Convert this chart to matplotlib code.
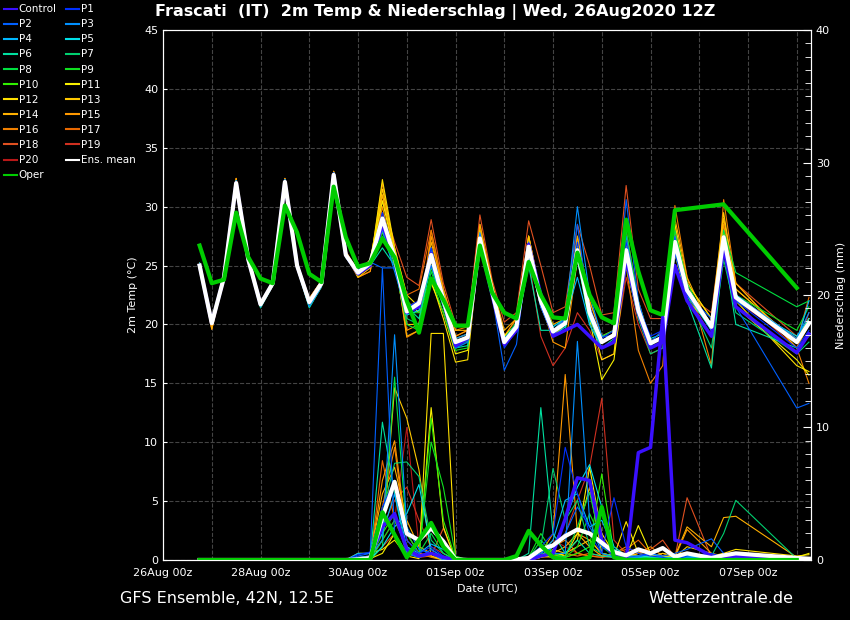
import matplotlib
matplotlib.use('Agg')
import matplotlib.pyplot as plt
from matplotlib.ticker import MultipleLocator

# Zeitachse: Stunden ab 26Aug2020 00Z
hours = [18, 24, 30, 36, 42, 48, 54, 60, 66, 72, 78, 84, 90, 96, 102, 108, 114, 120,
         126, 132, 138, 144, 150, 156, 162, 168, 174, 180, 186, 192, 198, 204, 210,
         216, 222, 228, 234, 240, 246, 252, 258, 270, 276, 282, 312, 318]
oper_hours = [18, 24, 30, 36, 42, 48, 54, 60, 66, 72, 78, 84, 90, 96, 102, 108, 114, 120,
              126, 132, 138, 144, 150, 156, 162, 168, 174, 180, 186, 192, 198, 204, 210,
              216, 222, 228, 234, 240, 246, 252, 276, 312]

xtick_hours = [0, 48, 96, 144, 192, 240, 288]
xtick_labels = ['26Aug 00z', '28Aug 00z', '30Aug 00z', '01Sep 00z',
                '03Sep 00z', '05Sep 00z', '07Sep 00z']

# 2m Temperatur (°C)
t_control = [25.0, 20.1, 24.0, 32.0, 25.5, 21.7, 23.5, 32.1, 25.0, 21.9, 23.5, 32.7, 25.9,
             24.3, 25.0, 28.5, 25.5, 21.0, 21.5, 26.0, 22.0, 18.2, 18.8, 27.0, 22.5, 18.3,
             19.5, 26.8, 22.5, 19.0, 19.5, 20.0, 19.0, 18.0, 18.5, 25.5, 21.0, 18.0, 18.5,
             25.0, 22.0, 19.0, 26.5, 21.5, 17.6, 19.2]
t_p1 = [25.1, 20.0, 24.1, 32.2, 25.6, 21.8, 23.6, 32.3, 25.1, 22.0, 23.6, 32.9, 26.0,
        24.5, 25.3, 29.5, 26.0, 21.5, 22.0, 26.5, 22.5, 18.5, 19.0, 27.5, 22.8, 18.0,
        19.5, 26.0, 21.5, 19.0, 20.5, 27.0, 21.5, 18.8, 19.5, 27.0, 21.5, 19.0, 19.5,
        26.0, 22.5, 20.0, 27.0, 22.0, 18.0, 19.5]
t_p2 = [24.9, 20.2, 23.9, 31.8, 25.4, 21.6, 23.4, 32.0, 24.9, 21.8, 23.4, 32.5, 25.8,
        24.4, 25.3, 24.8, 24.8, 21.5, 21.8, 25.0, 22.0, 18.0, 18.5, 27.0, 22.5, 16.1,
        18.3, 26.5, 21.5, 19.5, 20.0, 28.5, 21.0, 18.5, 19.0, 30.6, 22.0, 18.5, 19.5,
        27.5, 22.5, 20.5, 27.0, 21.5, 12.9, 13.3]
t_p3 = [25.2, 20.1, 24.2, 32.1, 25.3, 21.5, 23.3, 32.2, 24.8, 21.5, 23.2, 32.6, 25.7,
        24.5, 25.2, 28.0, 24.5, 21.0, 21.5, 26.5, 22.0, 18.8, 19.2, 27.8, 23.0, 18.8,
        20.0, 27.0, 22.0, 19.5, 20.5, 30.0, 22.5, 19.0, 19.0, 27.5, 21.5, 18.2, 19.0,
        27.0, 23.0, 19.5, 27.5, 22.5, 18.8, 21.0]
t_p4 = [25.0, 20.1, 24.0, 32.0, 25.5, 21.7, 23.5, 32.1, 25.0, 21.9, 23.5, 32.7, 25.9,
        24.6, 25.4, 29.0, 25.8, 21.0, 21.5, 26.0, 22.2, 18.2, 18.8, 27.2, 22.8, 18.3,
        19.8, 26.5, 21.8, 19.8, 20.5, 24.0, 20.0, 18.0, 18.5, 26.0, 21.0, 18.5, 19.0,
        27.2, 23.0, 20.0, 27.0, 22.5, 18.5, 22.0]
t_p5 = [25.1, 20.0, 24.1, 32.2, 25.6, 21.8, 23.6, 32.3, 25.1, 22.0, 23.6, 32.9, 26.0,
        24.3, 25.0, 28.8, 25.5, 20.8, 21.2, 25.5, 22.0, 18.5, 19.0, 27.5, 23.0, 18.5,
        20.0, 26.0, 21.5, 19.0, 19.8, 25.5, 20.5, 18.5, 19.0, 26.5, 21.5, 18.8, 19.2,
        26.5, 22.5, 19.5, 27.0, 22.0, 19.0, 20.5]
t_p6 = [25.2, 20.1, 24.2, 32.1, 25.3, 21.4, 23.3, 32.2, 24.8, 21.4, 23.2, 32.6, 25.7,
        24.2, 25.0, 26.5, 25.0, 21.5, 20.5, 25.0, 21.5, 18.0, 18.2, 26.5, 22.5, 18.5,
        19.5, 25.0, 19.5, 19.5, 20.0, 26.0, 20.5, 18.0, 18.8, 25.5, 21.0, 18.0, 18.5,
        26.5, 22.0, 16.3, 26.5, 20.0, 18.0, 19.0]
t_p7 = [24.9, 20.2, 23.9, 31.8, 25.4, 21.6, 23.4, 32.0, 24.9, 21.8, 23.4, 32.5, 25.8,
        24.4, 25.2, 28.5, 25.5, 20.5, 20.0, 25.5, 22.0, 18.0, 18.5, 27.0, 22.5, 18.5,
        20.0, 26.5, 22.0, 19.0, 19.5, 26.5, 21.0, 18.5, 19.0, 25.0, 20.5, 17.5, 18.0,
        26.0, 22.5, 18.0, 25.5, 21.0, 17.5, 18.5]
t_p8 = [25.0, 20.1, 24.0, 32.0, 25.5, 21.7, 23.5, 32.1, 25.0, 21.9, 23.5, 32.7, 25.9,
        24.5, 25.3, 27.5, 25.0, 20.0, 19.5, 24.5, 21.5, 18.2, 18.6, 27.5, 22.5, 18.8,
        20.2, 26.8, 22.5, 19.8, 20.5, 26.0, 21.0, 19.0, 19.5, 28.0, 22.0, 18.5, 19.0,
        28.0, 23.5, 19.5, 28.0, 24.4, 21.5, 22.0]
t_p9 = [25.1, 20.0, 24.1, 32.2, 25.6, 21.8, 23.6, 32.3, 25.1, 22.0, 23.6, 32.9, 26.0,
        24.3, 25.1, 28.0, 25.2, 21.0, 21.0, 24.0, 21.0, 17.8, 18.0, 27.0, 22.8, 18.5,
        19.8, 26.5, 22.0, 19.0, 19.5, 25.5, 20.0, 18.0, 18.5, 26.0, 21.0, 18.0, 18.5,
        26.5, 22.8, 19.8, 27.5, 22.5, 19.5, 21.5]
t_p10 = [24.9, 20.2, 23.9, 31.8, 25.4, 21.6, 23.4, 32.0, 24.9, 21.8, 23.4, 32.5, 25.8,
         24.4, 25.2, 27.8, 25.5, 21.2, 21.5, 24.8, 21.8, 18.5, 18.8, 27.0, 22.5, 18.2,
         19.5, 26.0, 21.8, 19.2, 20.0, 26.0, 20.8, 18.5, 19.0, 26.5, 21.5, 18.5, 19.0,
         27.0, 23.0, 20.0, 27.5, 22.5, 18.5, 20.0]
t_p11 = [25.2, 20.1, 24.2, 32.1, 25.3, 21.5, 23.3, 32.2, 24.8, 21.5, 23.2, 32.6, 25.7,
         24.5, 25.4, 30.5, 26.0, 22.0, 21.0, 23.5, 21.0, 17.5, 17.8, 27.0, 23.0, 19.0,
         20.0, 26.5, 22.0, 19.5, 20.0, 26.0, 20.5, 15.3, 17.0, 25.0, 20.5, 18.5, 19.0,
         26.0, 22.0, 20.0, 27.0, 21.5, 17.0, 15.7]
t_p12 = [25.0, 20.1, 24.0, 32.0, 25.5, 21.7, 23.5, 32.1, 25.0, 21.9, 23.5, 32.7, 25.9,
         24.2, 25.0, 32.3, 26.5, 22.5, 21.5, 23.8, 20.5, 16.8, 17.0, 27.0, 22.5, 18.5,
         19.5, 26.0, 21.5, 19.0, 20.0, 27.0, 21.0, 17.0, 17.5, 27.0, 21.5, 18.5, 19.0,
         28.5, 23.5, 20.5, 28.0, 22.0, 16.5, 16.0]
t_p13 = [25.1, 20.0, 24.1, 32.2, 25.6, 21.8, 23.6, 32.3, 25.1, 22.0, 23.6, 32.9, 26.0,
         24.0, 24.8, 31.5, 26.5, 20.0, 20.0, 26.5, 22.5, 18.8, 19.2, 28.0, 23.0, 19.0,
         20.0, 27.5, 22.5, 19.5, 20.0, 27.0, 21.5, 18.5, 19.0, 26.5, 21.0, 18.5, 19.0,
         27.5, 23.5, 20.5, 29.5, 23.0, 18.5, 20.5]
t_p14 = [25.0, 19.6, 24.0, 32.4, 25.5, 21.9, 23.5, 32.4, 25.2, 22.2, 23.7, 33.0, 26.2,
         24.5, 25.5, 31.0, 26.0, 19.0, 19.5, 27.0, 23.0, 19.5, 19.5, 28.5, 23.5, 19.5,
         20.5, 27.5, 22.5, 20.0, 20.5, 27.5, 22.0, 19.0, 19.5, 27.0, 21.5, 18.5, 19.0,
         29.0, 24.0, 19.5, 29.0, 23.5, 18.0, 20.0]
t_p15 = [24.9, 20.2, 23.9, 31.8, 25.4, 21.6, 23.4, 32.0, 24.9, 21.8, 23.4, 32.5, 25.8,
         24.0, 24.5, 30.0, 25.5, 19.5, 20.0, 27.5, 22.5, 19.0, 19.5, 27.8, 23.0, 19.0,
         20.5, 27.5, 22.0, 18.5, 18.0, 25.5, 20.5, 18.0, 18.5, 26.5, 21.5, 18.5, 19.0,
         28.0, 23.0, 19.5, 28.5, 22.5, 18.8, 20.5]
t_p16 = [25.0, 19.6, 24.0, 32.4, 25.5, 21.9, 23.5, 32.4, 25.2, 22.2, 23.7, 33.0, 26.2,
         24.3, 25.0, 32.0, 26.0, 18.9, 19.5, 28.0, 23.0, 19.5, 19.8, 28.5, 23.5, 19.0,
         20.0, 27.0, 22.5, 19.5, 20.5, 26.5, 21.5, 18.5, 19.0, 25.0, 17.8, 15.0, 16.5,
         30.1, 24.0, 16.5, 30.6, 23.5, 18.0, 15.0]
t_p17 = [25.2, 20.1, 24.2, 32.1, 25.3, 21.5, 23.3, 32.2, 24.8, 21.5, 23.2, 32.6, 25.7,
         24.4, 25.3, 31.0, 26.5, 22.5, 23.0, 28.0, 23.0, 19.0, 19.5, 28.0, 23.5, 19.0,
         20.5, 27.5, 22.5, 19.5, 20.0, 27.5, 22.0, 19.0, 19.5, 28.0, 22.0, 18.5, 19.5,
         27.5, 23.0, 20.0, 28.0, 23.0, 18.5, 22.3]
t_p18 = [25.0, 19.6, 24.0, 32.4, 25.5, 21.9, 23.5, 32.4, 25.2, 22.2, 23.7, 33.0, 26.2,
         24.0, 24.5, 30.5, 27.0, 24.0, 23.3, 28.9, 23.5, 20.0, 20.0, 29.3, 23.8, 20.2,
         21.0, 28.8, 25.0, 21.0, 21.5, 28.5, 25.0, 20.8, 21.0, 31.8, 23.0, 20.5, 20.5,
         28.5, 22.5, 21.0, 29.0, 23.5, 19.0, 20.0]
t_p19 = [25.1, 20.0, 24.1, 32.2, 25.6, 21.8, 23.6, 32.3, 25.1, 22.0, 23.6, 32.9, 26.0,
         24.3, 25.0, 29.5, 25.8, 21.5, 22.0, 26.5, 22.5, 18.5, 19.0, 27.5, 22.5, 18.5,
         19.5, 25.5, 19.0, 16.5, 18.0, 21.0, 19.5, 17.0, 17.5, 24.0, 20.0, 17.5, 18.0,
         26.0, 22.5, 19.0, 27.0, 22.5, 18.0, 21.0]
t_p20 = [24.9, 20.2, 23.9, 31.8, 25.4, 21.6, 23.4, 32.0, 24.9, 21.8, 23.4, 32.5, 25.8,
         24.4, 25.2, 29.0, 25.5, 21.0, 21.8, 26.0, 22.0, 18.5, 19.0, 27.0, 22.8, 18.5,
         19.8, 26.5, 22.0, 19.5, 20.0, 27.0, 21.0, 18.5, 19.0, 27.0, 21.5, 18.5, 19.0,
         27.0, 23.0, 19.5, 27.5, 22.0, 18.5, 20.5]
t_mean = [25.0, 20.1, 24.0, 32.0, 25.5, 21.7, 23.5, 32.1, 25.0, 21.9, 23.5, 32.7, 25.9,
          24.4, 25.2, 29.0, 25.7, 21.1, 21.8, 25.9, 22.1, 18.5, 18.9, 27.3, 22.8, 18.5,
          19.8, 26.6, 22.0, 19.4, 20.1, 26.3, 21.0, 18.5, 19.1, 26.3, 21.2, 18.4, 18.9,
          27.0, 22.9, 19.8, 27.4, 22.3, 18.5, 20.1]
t_oper = [26.7, 23.5, 23.8, 29.5, 25.7, 23.9, 23.5, 30.1, 27.8, 24.3, 23.6, 31.7, 27.4,
          24.9, 25.2, 27.3, 25.7, 22.0, 19.3, 23.9, 22.1, 19.9, 19.9, 26.7, 22.7, 21.0,
          20.5, 25.3, 22.5, 20.6, 20.5, 26.1, 22.5, 20.6, 20.1, 28.9, 24.5, 21.2, 20.8,
          29.7, 30.2, 23.1]

# Niederschlag (mm / 6h)
p_control = [0, 0, 0, 0, 0, 0, 0, 0, 0, 0, 0, 0, 0,
             0, 0.2, 2.5, 3.5, 0.8, 0.3, 0.5, 0.2, 0, 0, 0, 0, 0,
             0, 0, 0.3, 0.5, 3.1, 6.2, 6.0, 1.5, 0.3, 0, 8.1, 8.5, 18.3, 1.5, 1.3, 0.3, 0.2, 0.3, 0.1, 0]
p_p1 = [0, 0, 0, 0, 0, 0, 0, 0, 0, 0, 0, 0, 0,
        0.4, 0.6, 4.0, 6.0, 1.5, 0.5, 1.0, 0.3, 0, 0, 0, 0, 0,
        0.1, 0.2, 1.0, 2.0, 8.5, 5.0, 2.0, 0.5, 4.7, 1.0, 0.5, 0.3, 0.2, 0, 0.3, 0.5, 0.2, 0.3, 0.1, 0]
p_p2 = [0, 0, 0, 0, 0, 0, 0, 0, 0, 0, 0, 0, 0,
        0.3, 0.5, 22.0, 2.0, 0.5, 0.2, 0.8, 0.2, 0, 0, 0, 0, 0,
        0, 0.1, 0.5, 1.0, 2.0, 4.0, 2.5, 1.0, 0.5, 0.2, 0.3, 0.5, 0.3, 0.5, 0.8, 1.6, 0.5, 0.3, 0.1, 0.1]
p_p3 = [0, 0, 0, 0, 0, 0, 0, 0, 0, 0, 0, 0, 0,
        0.2, 0.3, 1.5, 17.0, 2.5, 0.8, 0.5, 0, 0, 0, 0, 0, 0,
        0, 0, 0.3, 0.5, 0.5, 16.5, 3.0, 0.5, 0.2, 0.1, 0.2, 0.5, 0.8, 0.3, 0.2, 0.1, 0, 0.2, 0, 0]
p_p4 = [0, 0, 0, 0, 0, 0, 0, 0, 0, 0, 0, 0, 0,
        0.5, 0.5, 2.0, 5.0, 1.0, 0.5, 1.2, 0.8, 0, 0, 0, 0, 0,
        0, 0.1, 0.5, 1.5, 4.5, 5.0, 2.5, 3.0, 0.8, 0.3, 0.3, 0.5, 0.2, 0.2, 0.3, 0.1, 0.2, 0.3, 0.1, 0]
p_p5 = [0, 0, 0, 0, 0, 0, 0, 0, 0, 0, 0, 0, 0,
        0, 0.1, 1.0, 2.5, 3.5, 5.7, 0.8, 0.2, 0, 0, 0, 0, 0,
        0, 0, 0.3, 1.0, 3.0, 5.5, 7.2, 4.0, 1.0, 0.3, 0.2, 0.3, 0.2, 0.1, 0.3, 0.2, 0.1, 0.2, 0.1, 0]
p_p6 = [0, 0, 0, 0, 0, 0, 0, 0, 0, 0, 0, 0, 0,
        0, 0.1, 10.4, 5.0, 0.5, 0.2, 0.5, 0, 0, 0, 0, 0, 0,
        0, 0.5, 11.5, 2.0, 0.5, 1.5, 0.5, 0.3, 0.2, 0.1, 0, 0.2, 0.1, 0, 0.2, 0.1, 0, 0.2, 0, 0]
p_p7 = [0, 0, 0, 0, 0, 0, 0, 0, 0, 0, 0, 0, 0,
        0, 0.2, 3.5, 7.3, 7.4, 6.3, 1.5, 0.5, 0, 0, 0, 0, 0,
        0, 0.2, 1.0, 6.9, 3.0, 4.5, 1.0, 0.5, 0.3, 0, 0.2, 0.1, 0.2, 0, 0.3, 0.3, 2.0, 4.5, 0.1, 0]
p_p8 = [0, 0, 0, 0, 0, 0, 0, 0, 0, 0, 0, 0, 0,
        0, 0, 1.0, 13.8, 2.0, 0.5, 2.0, 0.5, 0, 0, 0, 0, 0,
        0, 0.1, 1.5, 0.5, 0.2, 2.5, 5.1, 1.0, 0.3, 0.1, 0.2, 0, 0.1, 0, 0.1, 0.1, 0, 0.2, 0, 0]
p_p9 = [0, 0, 0, 0, 0, 0, 0, 0, 0, 0, 0, 0, 0,
        0, 0, 1.5, 3.0, 1.0, 0.3, 8.9, 5.5, 0.3, 0, 0, 0, 0,
        0, 0.2, 2.0, 0.5, 0.2, 1.0, 3.5, 1.5, 0.2, 0, 0.1, 0.2, 0, 0, 0.1, 0, 0, 0.1, 0, 0]
p_p10 = [0, 0, 0, 0, 0, 0, 0, 0, 0, 0, 0, 0, 0,
         0, 0, 2.0, 3.5, 0.5, 0.3, 10.7, 3.0, 0.1, 0, 0, 0, 0,
         0, 0, 0.5, 0.3, 0.2, 0.5, 1.0, 6.5, 0.5, 0.2, 0.3, 0.1, 0.2, 0, 0.2, 0.1, 0, 0.3, 0.1, 0]
p_p11 = [0, 0, 0, 0, 0, 0, 0, 0, 0, 0, 0, 0, 0,
         0, 0.1, 0.5, 2.0, 0.5, 0.3, 11.5, 2.5, 0, 0, 0, 0, 0,
         0, 0, 0.3, 0.2, 0.5, 1.5, 7.0, 2.0, 0.5, 0.2, 2.6, 0.5, 0.3, 0.2, 0.3, 0.2, 0.3, 0.5, 0.2, 0.5]
p_p12 = [0, 0, 0, 0, 0, 0, 0, 0, 0, 0, 0, 0, 0,
         0.5, 0.5, 0.8, 1.5, 0.3, 0.1, 17.1, 17.1, 0.2, 0, 0, 0, 0,
         0, 0, 0.2, 0.5, 0.3, 2.0, 5.5, 0.5, 0.3, 2.9, 0.5, 0.3, 0.2, 0.1, 0.2, 0.3, 0.5, 0.8, 0.3, 0.4]
p_p13 = [0, 0, 0, 0, 0, 0, 0, 0, 0, 0, 0, 0, 0,
         0, 0.1, 1.5, 13.0, 10.7, 6.8, 0.3, 0, 0, 0, 0, 0, 0,
         0, 0, 0.2, 0.8, 0.5, 1.0, 1.5, 0.5, 0.3, 0.2, 0.5, 0.3, 0.5, 0.2, 1.0, 0.5, 0.3, 0.2, 0, 0]
p_p14 = [0, 0, 0, 0, 0, 0, 0, 0, 0, 0, 0, 0, 0,
         0.2, 0.3, 5.0, 7.0, 3.0, 1.0, 0.5, 0.2, 0, 0, 0, 0, 0,
         0, 0.1, 0.3, 0.5, 1.0, 2.0, 1.0, 0.3, 0.2, 0.5, 0.3, 0.2, 0.5, 0.3, 2.5, 1.0, 3.2, 3.3, 0.2, 0]
p_p15 = [0, 0, 0, 0, 0, 0, 0, 0, 0, 0, 0, 0, 0,
         0, 0.1, 6.0, 9.0, 2.0, 0.5, 0.3, 0, 0, 0, 0, 0, 0,
         0, 0, 0.5, 2.0, 14.0, 2.0, 1.5, 0.5, 0.3, 0.2, 0.3, 0.2, 0.1, 0.2, 2.3, 0.5, 0.2, 0.1, 0, 0]
p_p16 = [0, 0, 0, 0, 0, 0, 0, 0, 0, 0, 0, 0, 0,
         0, 0.2, 4.0, 8.5, 1.5, 0.5, 0.2, 0, 0, 0, 0, 0, 0,
         0, 0.1, 0.3, 1.0, 1.5, 0.5, 0.3, 0.2, 0.5, 1.0, 0.5, 1.0, 0.3, 0.2, 0.5, 0.3, 0.2, 0.2, 0, 0]
p_p17 = [0, 0, 0, 0, 0, 0, 0, 0, 0, 0, 0, 0, 0,
         0, 0, 7.5, 3.0, 1.0, 0.2, 0.5, 0, 0, 0, 0, 0, 0,
         0, 0, 0.2, 0.3, 0.5, 0.3, 0.5, 0.3, 0.5, 0.8, 1.5, 0.5, 0.2, 0.3, 0.5, 0.2, 0.1, 0.1, 0, 0]
p_p18 = [0, 0, 0, 0, 0, 0, 0, 0, 0, 0, 0, 0, 0,
         0, 0, 1.0, 2.0, 0.5, 0.2, 0.3, 2.4, 0, 0, 0, 0, 0,
         0, 0, 0.2, 0.3, 0.2, 0.5, 0.3, 0.2, 0.3, 0.2, 0.5, 0.8, 1.5, 0.2, 4.7, 0.2, 0.2, 0.1, 0, 0]
p_p19 = [0, 0, 0, 0, 0, 0, 0, 0, 0, 0, 0, 0, 0,
         0, 0.3, 2.5, 4.5, 5.5, 3.0, 1.0, 0.5, 0, 0, 0, 0, 0,
         0, 0, 0.3, 1.0, 2.0, 4.5, 7.0, 12.2, 1.5, 0.5, 0.3, 0.2, 0.3, 0.2, 0.3, 0.1, 0, 0.1, 0, 0]
p_p20 = [0, 0, 0, 0, 0, 0, 0, 0, 0, 0, 0, 0, 0,
         0, 0.2, 1.5, 3.0, 10.0, 1.0, 0.5, 0.3, 0, 0, 0, 0, 0,
         0, 0, 0.5, 1.5, 1.0, 0.5, 0.3, 0.5, 0.3, 0.2, 0.2, 0.1, 0.2, 0, 0.1, 0.1, 0, 0, 0, 0]
p_mean = [0, 0, 0, 0, 0, 0, 0, 0, 0, 0, 0, 0, 0,
          0.05, 0.15, 3.2, 5.9, 2.0, 1.5, 2.4, 1.4, 0.05, 0, 0, 0, 0,
          0.05, 0.15, 0.8, 1.1, 1.8, 2.3, 2.0, 1.3, 0.6, 0.35, 0.8, 0.5, 0.9, 0.25, 0.5, 0.15, 0.35, 0.5, 0.15, 0.1]
p_oper = [0, 0, 0, 0, 0, 0, 0, 0, 0, 0, 0, 0, 0,
          0, 0, 3.6, 1.9, 0.2, 1.5, 2.8, 1.0, 0, 0, 0, 0, 0,
          0.3, 2.2, 1.1, 0.2, 0, 0, 0.2, 4.0, 0.2, 0, 0, 0, 0, 0, 0, 0]

names = ['Control'] + ['P%d' % i for i in range(1, 21)]
colors = ['#3a10ff', '#0030ff', '#0060ff', '#0090ff', '#00b8ff', '#00e0e8', '#00e0a0',
          '#00d070', '#00e040', '#10e020', '#30f000', '#f8f000', '#ffe000', '#ffc800',
          '#ffb000', '#ff9800', '#f08000', '#e86800', '#e05020', '#d03020', '#b81818']
temps = [t_control, t_p1, t_p2, t_p3, t_p4, t_p5, t_p6, t_p7, t_p8, t_p9, t_p10,
         t_p11, t_p12, t_p13, t_p14, t_p15, t_p16, t_p17, t_p18, t_p19, t_p20]
precs = [p_control, p_p1, p_p2, p_p3, p_p4, p_p5, p_p6, p_p7, p_p8, p_p9, p_p10,
         p_p11, p_p12, p_p13, p_p14, p_p15, p_p16, p_p17, p_p18, p_p19, p_p20]

plt.rcParams['font.family'] = ['DejaVu Sans']
fig = plt.figure(figsize=(8.5, 6.2), dpi=100, facecolor='black')
ax = fig.add_axes([0.1918, 0.0968, 0.7623, 0.8548], facecolor='black')
ax2 = ax.twinx()

handles = {}
# Mitglieder zuerst, Control darüber
for i in range(20, -1, -1):
    lw = 2.5 if i == 0 else 0.8
    h, = ax.plot(hours, temps[i], color=colors[i], lw=lw, label=names[i])
    ax2.plot(hours, precs[i], color=colors[i], lw=lw)
    handles[names[i]] = h

h_mean, = ax.plot(hours, t_mean, color='white', lw=3, label='Ens. mean')
ax2.plot(hours, p_mean, color='white', lw=3)
h_oper, = ax.plot(oper_hours, t_oper, color='#00cc00', lw=3, label='Oper')
ax2.plot(oper_hours, p_oper, color='#00cc00', lw=3)

ax.set_xlim(0, 319)
ax.set_ylim(0, 45)
ax2.set_ylim(0, 40)

ax.set_xticks(xtick_hours)
ax.set_xticklabels(xtick_labels)
ax.xaxis.set_minor_locator(MultipleLocator(24))
ax.yaxis.set_major_locator(MultipleLocator(5))
ax2.yaxis.set_major_locator(MultipleLocator(10))
ax2.yaxis.set_minor_locator(MultipleLocator(1))

ax.grid(True, which='both', axis='x', color='#444444', ls='--', lw=0.8)
ax.grid(True, which='major', axis='y', color='#444444', ls='--', lw=0.8)

for a in (ax, ax2):
    for s in a.spines.values():
        s.set_color('white')
    a.tick_params(colors='white', labelsize=8, direction='in', which='both')
ax.tick_params(axis='x', which='both', length=0, pad=6)
ax.tick_params(axis='y', length=3)
ax2.tick_params(axis='y', which='major', length=6)
ax2.tick_params(axis='y', which='minor', length=4)

ax.set_ylabel('2m Temp (°C)', color='white', fontsize=8)
ax2.set_ylabel('Niederschlag (mm)', color='white', fontsize=8, labelpad=4)
ax.set_xlabel('Date (UTC)', color='white', fontsize=8, labelpad=4)

fig.text(0.512, 0.98, 'Frascati  (IT)  2m Temp & Niederschlag | Wed, 26Aug2020 12Z',
         color='white', fontsize=11.5, fontweight='bold', ha='center', va='center')
fig.text(0.141, 0.034, 'GFS Ensemble, 42N, 12.5E', color='white', fontsize=11.5,
         ha='left', va='center')
fig.text(0.934, 0.034, 'Wetterzentrale.de', color='white', fontsize=11.5,
         ha='right', va='center')

# Legende spaltenweise sortiert, damit sie zeilenweise wie im Original liest
col1 = [handles['Control']] + [handles['P%d' % i] for i in range(2, 21, 2)] + [h_oper]
col2 = [handles['P%d' % i] for i in range(1, 20, 2)] + [h_mean]
leg = fig.legend(col1 + col2, [h.get_label() for h in col1 + col2],
                 loc='upper left', bbox_to_anchor=(0.0, 1.0), ncol=2, frameon=False,
                 fontsize=7.5, handlelength=1.2, handletextpad=0.2, labelspacing=0.49,
                 columnspacing=0.9, borderaxespad=0.2, borderpad=0.2)
for t in leg.get_texts():
    t.set_color('white')
for l in leg.get_lines():
    l.set_linewidth(1.5)

fig.savefig('out.png', dpi=100, facecolor='black')
